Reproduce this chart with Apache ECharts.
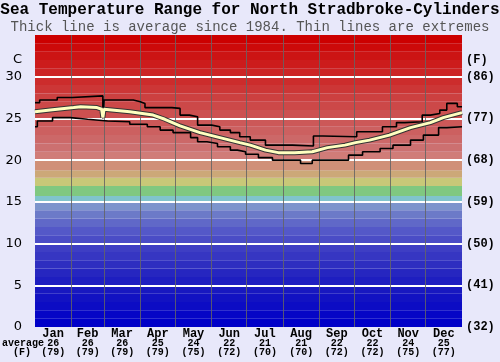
<!DOCTYPE html>
<html>
<head>
<meta charset="utf-8">
<script src="https://cdn.jsdelivr.net/npm/echarts@6/dist/echarts.min.js"></script>
<style>
html,body{margin:0;padding:0;background:#e8e8fa;}
#chart{width:500px;height:362px;}
</style>
</head>
<body>
<div id="chart"></div>
<script>
// ---- data ----
const months = ['Jan','Feb','Mar','Apr','May','Jun','Jul','Aug','Sep','Oct','Nov','Dec'];
const monthDays = [31,28,31,30,31,30,31,31,30,31,30,31];
const monthAvgC = [26,26,26,25,24,22,21,21,22,22,24,25];
const monthAvgF = [79,79,79,79,75,72,70,70,72,72,75,77];
const cTicks = [0,5,10,15,20,25,30];
const fTickLabels = ['(32)','(41)','(50)','(59)','(68)','(77)','(86)'];

// extremes (step lines), day of year -> °C
const maxDay  = [0,4,19,32,58,59,84,90,94,117,124,132,139,151,158,167,175,184,197,220,238,246,275,297,309,316,331,338,346,352,361,365];
const maxTemp = [26.9,27.2,27.5,27.7,25.0,27.2,27.0,26.8,26.3,26.2,25.4,25.2,24.2,24.0,23.6,23.3,22.8,22.4,21.8,21.7,22.9,22.8,23.4,24.0,24.5,24.6,25.4,25.6,26.0,26.8,26.4,26.4];
const minDay  = [0,2,15,30,45,62,81,96,107,118,133,139,147,156,167,173,180,191,203,227,237,268,280,295,306,321,332,345,352,365];
const minTemp = [24.0,24.7,25.1,24.9,24.7,24.6,24.3,24.0,23.6,23.3,22.7,22.2,22.0,21.6,21.2,21.0,20.7,20.3,20.0,19.6,20.0,20.6,21.0,21.4,21.8,22.4,23.0,23.9,24.0,24.0];
// average line
const avgDay  = [0,13,33,39,53,57,58,59,81,101,111,124,141,158,175,184,197,208,222,237,250,265,274,286,303,321,338,349,365];
const avgTemp = [25.8,26.0,26.3,26.4,26.3,26.1,25.1,26.1,25.8,25.4,24.9,24.1,23.3,22.7,22.1,21.8,21.2,20.9,20.9,21.0,21.5,21.8,22.1,22.4,23.0,23.9,24.5,25.1,25.7];

// ---- styling: background temperature bands [from, to, colour] ----
const bands = [
 [0,1,'#0000c8'],[1,2,'#0606c6'],[2,3,'#0c0cc4'],[3,4,'#1212c2'],[4,5,'#1818c0'],
 [5,6,'#1e1ec0'],[6,7,'#2626c0'],[7,8,'#2e2ec0'],[8,9,'#3636c2'],[9,10,'#3e3ec4'],
 [10,11,'#4a4cc6'],[11,12,'#5458c8'],[12,13,'#6068c8'],[13,14,'#6c7ac8'],[14,15,'#7c94cc'],
 [15,15.7,'#80c4cc'],[15.7,16.9,'#80c880'],[16.9,17.9,'#c8c878'],[17.9,18.8,'#cca878'],[18.8,20,'#d09078'],
 [20,21,'#d07c78'],[21,22,'#cc7070'],[22,23,'#cc6868'],[23,24,'#cc6060'],[24,25,'#cc5858'],
 [25,26,'#cc5050'],[26,27,'#cc4848'],[27,28,'#cc4040'],[28,29,'#cc3636'],[29,30,'#cc2c2c'],
 [30,31,'#cc2424'],[31,32,'#cc1c1c'],[32,33,'#cc1414'],[33,34,'#cc0a0a'],[34,35,'#cc0000']
];

const zip = (a,b) => a.map((v,i)=>[v,b[i]]);
const monthStart = [];
let acc = 0;
monthDays.forEach(d => { monthStart.push(acc); acc += d; });
const monthMid = monthStart.map((s,i)=> s + monthDays[i]/2);
const boundaries = monthStart.slice(1);

const mono = 'Liberation Mono';
const chart = echarts.init(document.getElementById('chart'));
chart.setOption({
  animation: false,
  backgroundColor: '#e8e8fa',
  title: {
    text: 'Sea Temperature Range for North Stradbroke-Cylinders',
    subtext: 'Thick line is average since 1984. Thin lines are extremes',
    left: 'center', top: 2, itemGap: 2, padding: 0,
    textStyle: {fontFamily: mono, fontWeight: 'bold', fontSize: 16, color: '#000'},
    subtextStyle: {fontFamily: mono, fontSize: 14, color: '#555'}
  },
  grid: {left: 35, right: 38, top: 35, bottom: 35},
  xAxis: {
    type: 'value', min: 0, max: 365,
    axisLine: {show: false}, axisTick: {show: false}, splitLine: {show: false},
    axisLabel: {
      customValues: monthMid, margin: 2, interval: 0,
      formatter: v => {
        const i = monthMid.findIndex(m => Math.abs(m - v) < 0.01);
        if (i < 0) return '';
        return '{m|' + months[i] + '}\n{n|' + monthAvgC[i] + '}\n{n|(' + monthAvgF[i] + ')}';
      },
      rich: {
        m: {fontFamily: mono, fontWeight: 'bold', fontSize: 12, lineHeight: 10, color: '#000'},
        n: {fontFamily: mono, fontWeight: 'bold', fontSize: 10, lineHeight: 9, color: '#000'}
      }
    }
  },
  yAxis: [{
    type: 'value', min: 0, max: 35, interval: 5, position: 'left',
    axisLine: {show: false}, axisTick: {show: false}, splitLine: {show: false},
    axisLabel: {margin: 13, fontFamily: 'DejaVu Sans', fontSize: 13, color: '#000',
      formatter: v => cTicks.includes(v) ? String(v) : ''}
  }, {
    type: 'value', min: 0, max: 35, interval: 5, position: 'right',
    axisLine: {show: false}, axisTick: {show: false}, splitLine: {show: false},
    axisLabel: {margin: 4, fontFamily: mono, fontWeight: 'bold', fontSize: 12, color: '#000',
      formatter: v => { const i = cTicks.indexOf(v); return i >= 0 ? fTickLabels[i] : ''; }}
  }],
  graphic: [
    {type: 'text', x: 22, y: 60, style: {text: 'C', align: 'right', verticalAlign: 'middle', font: '13px DejaVu Sans', fill: '#000'}},
    {type: 'text', x: 466, y: 60, style: {text: '(F)', align: 'left', verticalAlign: 'middle', font: 'bold 12px Liberation Mono', fill: '#000'}},
    {type: 'text', x: 2, y: 343, style: {text: 'average', align: 'left', verticalAlign: 'middle', font: 'bold 10px Liberation Mono', fill: '#000'}},
    {type: 'text', x: 22, y: 352, style: {text: '(F)', align: 'center', verticalAlign: 'middle', font: 'bold 10px Liberation Mono', fill: '#000'}}
  ],
  series: [
    {
      type: 'line', name: 'max', data: zip(maxDay, maxTemp), step: 'end', symbol: 'none', z: 3,
      lineStyle: {color: '#000', width: 1.6},
      markArea: {
        silent: true, z: 1,
        data: bands.map(b => [{yAxis: b[0], itemStyle: {color: b[2]}}, {yAxis: b[1]}])
      },
      markLine: {
        silent: true, z: 1.5, symbol: ['none','none'], label: {show: false},
        data: cTicks.filter(v => v > 0).map(v => ({yAxis: v, lineStyle: {color: '#ffffff', width: 2, type: 'solid'}}))
          .concat(boundaries.map(b => ({xAxis: b, lineStyle: {color: 'rgba(100,100,100,0.85)', width: 1, type: 'solid'}})))
      }
    },
    {type: 'line', name: 'min', data: zip(minDay, minTemp), step: 'end', symbol: 'none', z: 3,
      lineStyle: {color: '#000', width: 1.6}},
    {type: 'line', name: 'avgOutline', data: zip(avgDay, avgTemp), symbol: 'none', z: 4,
      lineStyle: {color: '#333', width: 5}},
    {type: 'line', name: 'avg', data: zip(avgDay, avgTemp), symbol: 'none', z: 5,
      lineStyle: {color: '#ffffc0', width: 3}}
  ]
});
</script>
</body>
</html>
